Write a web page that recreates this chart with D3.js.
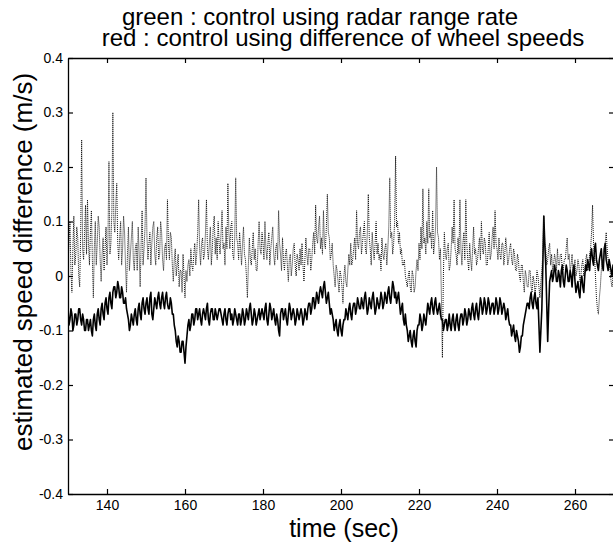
<!DOCTYPE html>
<html><head><meta charset="utf-8">
<script src="https://cdn.jsdelivr.net/npm/d3@7"></script>
<style>html,body{margin:0;padding:0;background:#fff;}svg{display:block;}</style>
</head><body>
<script>
// time axis: 130 .. 270 s, step 0.25 s
const tStart = 130, tStep = 0.25;
// green: control using radar range rate (dotted trace)
const radarSeries = [
 0.02, 0.06, 0.10, 0.01, -0.03, 0.05, 0.11, 0.02, 0.04, 0.09, 0.07, 0.00, -0.02, 0.08, 0.25, 0.05, 0.03, 0.08, 0.13, 0.04,
 0.14, 0.06, 0.02, 0.08, 0.12, 0.03, -0.04, 0.05, 0.10, 0.02, 0.06, 0.11, 0.09, 0.03, -0.01, 0.04, 0.07, 0.01, 0.05, 0.09,
 0.02, 0.07, 0.21, 0.04, 0.06, 0.12, 0.30, 0.10, 0.08, 0.13, 0.17, 0.06, 0.03, 0.07, 0.10, 0.02, 0.05, 0.11, 0.08, 0.02,
 -0.03, 0.04, 0.09, 0.01, 0.04, 0.07, 0.10, 0.03, 0.01, 0.05, 0.06, 0.01, 0.09, 0.04, -0.02, 0.06, 0.12, 0.02, 0.05, 0.09,
 0.18, 0.07, 0.03, 0.06, 0.08, 0.02, 0.06, 0.09, 0.10, 0.04, 0.02, 0.07, 0.09, 0.03, 0.04, 0.10, 0.08, 0.03, 0.01, 0.05,
 0.06, 0.03, 0.14, 0.06, 0.03, 0.08, 0.07, 0.02, -0.01, 0.03, 0.05, 0.00, 0.02, 0.04, -0.02, 0.01, 0.01, -0.03, 0.04, 0.00,
 -0.04, 0.01, -0.01, 0.02, 0.03, 0.00, 0.05, 0.02, 0.01, 0.04, 0.06, 0.02, 0.04, 0.08, 0.14, 0.05, 0.02, 0.06, 0.07, 0.03,
 0.04, 0.08, 0.14, 0.05, 0.03, 0.06, 0.09, 0.02, 0.05, 0.09, 0.11, 0.04, 0.07, 0.03, 0.10, 0.06, 0.04, 0.08, 0.12, 0.05,
 0.06, 0.02, 0.09, 0.05, 0.17, 0.08, 0.05, 0.09, 0.10, 0.04, 0.03, 0.07, 0.18, 0.07, 0.06, 0.03, 0.08, 0.05, 0.02, 0.06,
 0.09, 0.04, 0.03, 0.00, -0.04, 0.02, 0.07, 0.03, 0.02, 0.05, 0.08, 0.03, 0.05, 0.01, 0.01, 0.06, 0.10, 0.05, 0.04, 0.08,
 0.06, 0.03, 0.10, 0.05, 0.03, 0.06, 0.08, 0.02, 0.05, 0.07, 0.09, 0.04, 0.02, 0.05, 0.06, 0.03, 0.12, 0.06, 0.04, 0.01,
 0.07, 0.03, 0.01, 0.04, 0.05, 0.02, -0.01, 0.03, 0.04, 0.00, 0.02, 0.05, 0.06, 0.02, 0.00, 0.04, 0.03, 0.01, 0.05, 0.02,
 0.06, 0.02, -0.01, 0.03, 0.07, 0.04, 0.02, 0.05, 0.05, 0.01, 0.03, 0.06, 0.08, 0.04, 0.13, 0.07, 0.06, 0.09, 0.11, 0.05,
 0.07, 0.04, 0.12, 0.06, 0.05, 0.09, 0.15, 0.08, 0.07, 0.03, 0.04, 0.06, 0.02, 0.00, -0.02, 0.02, 0.01, -0.01, -0.03, 0.01,
 0.00, -0.02, -0.05, 0.00, 0.02, -0.01, -0.02, 0.01, 0.04, 0.02, 0.06, 0.02, 0.03, 0.05, 0.07, 0.03, 0.12, 0.06, 0.05, 0.08,
 0.09, 0.04, 0.06, 0.08, 0.10, 0.05, 0.04, 0.08, 0.15, 0.07, 0.05, 0.02, 0.08, 0.05, 0.03, 0.06, 0.10, 0.04, 0.06, 0.03,
 0.04, 0.01, 0.07, 0.04, 0.03, 0.05, 0.06, 0.02, 0.05, 0.09, 0.18, 0.07, 0.08, 0.04, 0.06, 0.10, 0.22, 0.09, 0.10, 0.06,
 0.08, 0.04, 0.05, 0.02, 0.02, 0.03, 0.00, -0.01, -0.02, 0.00, 0.01, -0.02, -0.03, 0.01, 0.00, -0.03, -0.02, 0.01, 0.03, 0.01,
 0.06, 0.03, 0.09, 0.05, 0.16, 0.06, 0.07, 0.04, 0.10, 0.06, 0.16, 0.07, 0.08, 0.05, 0.12, 0.04, 0.06, 0.09, 0.20, 0.08,
 0.07, 0.03, 0.05, -0.04, -0.15, 0.00, 0.08, 0.04, 0.03, 0.05, 0.06, 0.01, 0.02, 0.05, 0.09, 0.06, 0.14, 0.05, 0.04, 0.02,
 0.07, 0.04, 0.14, 0.05, 0.02, 0.06, 0.08, 0.03, 0.14, 0.06, 0.03, 0.01, 0.06, 0.03, 0.01, 0.05, 0.09, 0.04, 0.05, 0.02,
 0.03, 0.05, 0.07, 0.03, 0.10, 0.05, 0.04, 0.07, 0.06, 0.02, 0.02, 0.05, 0.08, 0.03, 0.04, 0.07, 0.09, 0.05, 0.12, 0.06,
 0.05, 0.03, 0.07, 0.04, 0.03, 0.06, 0.06, 0.02, 0.04, 0.07, 0.05, 0.02, 0.03, 0.05, 0.06, 0.03, 0.02, 0.05, 0.04, 0.01,
 0.01, 0.04, 0.03, 0.00, -0.01, 0.02, 0.02, -0.01, -0.03, 0.01, 0.00, -0.02, -0.02, 0.01, 0.01, -0.02, -0.03, 0.00, -0.01, -0.03,
 -0.02, 0.01, 0.00, -0.02, -0.04, -0.01, 0.01, 0.04, 0.11, 0.06, 0.05, 0.02, 0.03, 0.05, 0.06, 0.02, 0.04, 0.01, 0.02, 0.04,
 0.03, 0.01, 0.05, 0.02, 0.02, 0.04, 0.04, 0.01, 0.01, 0.03, 0.03, 0.05, 0.07, 0.03, 0.04, 0.01, 0.02, 0.04, 0.00, 0.02,
 0.03, 0.00, 0.01, 0.03, 0.02, -0.01, 0.00, 0.02, 0.03, 0.00, 0.01, 0.03, 0.04, 0.01, 0.02, 0.04, 0.05, 0.08, 0.13, 0.06,
 0.04, 0.00, -0.04, -0.06, -0.07, -0.04, -0.02, 0.01, 0.03, 0.02, 0.05, 0.06, 0.08, 0.05, 0.03, 0.02, 0.01, -0.01, -0.02, 0.00,
 0.02
];
// red: control using difference of wheel speeds (solid trace)
const wheelSeries = [
 -0.06, -0.09, -0.08, -0.06, -0.07, -0.10, -0.09, -0.07, -0.07, -0.09, -0.08, -0.06, -0.06, -0.08, -0.09, -0.07, -0.08, -0.10, -0.10, -0.08,
 -0.08, -0.10, -0.09, -0.08, -0.10, -0.11, -0.08, -0.07, -0.09, -0.10, -0.07, -0.06, -0.08, -0.09, -0.06, -0.05, -0.07, -0.08, -0.05, -0.04,
 -0.06, -0.07, -0.04, -0.03, -0.05, -0.06, -0.03, -0.02, -0.02, -0.04, -0.03, -0.01, -0.02, -0.04, -0.04, -0.02, -0.03, -0.05, -0.05, -0.04,
 -0.06, -0.07, -0.08, -0.10, -0.09, -0.07, -0.08, -0.09, -0.07, -0.06, -0.08, -0.09, -0.06, -0.05, -0.07, -0.08, -0.05, -0.04, -0.06, -0.07,
 -0.05, -0.04, -0.06, -0.07, -0.04, -0.03, -0.07, -0.08, -0.06, -0.04, -0.05, -0.06, -0.04, -0.03, -0.05, -0.06, -0.04, -0.03, -0.05, -0.06,
 -0.04, -0.03, -0.05, -0.06, -0.06, -0.04, -0.05, -0.07, -0.07, -0.09, -0.10, -0.12, -0.13, -0.11, -0.12, -0.14, -0.14, -0.12, -0.12, -0.14,
 -0.16, -0.13, -0.11, -0.09, -0.08, -0.10, -0.09, -0.07, -0.07, -0.09, -0.08, -0.06, -0.06, -0.08, -0.07, -0.06, -0.08, -0.09, -0.07, -0.06,
 -0.07, -0.08, -0.06, -0.05, -0.08, -0.09, -0.07, -0.06, -0.06, -0.08, -0.08, -0.06, -0.07, -0.08, -0.07, -0.06, -0.06, -0.07, -0.08, -0.09,
 -0.07, -0.06, -0.08, -0.09, -0.07, -0.06, -0.06, -0.08, -0.07, -0.09, -0.08, -0.06, -0.07, -0.08, -0.09, -0.07, -0.07, -0.09, -0.08, -0.06,
 -0.07, -0.09, -0.08, -0.06, -0.07, -0.08, -0.06, -0.05, -0.07, -0.09, -0.08, -0.06, -0.07, -0.09, -0.08, -0.07, -0.06, -0.08, -0.07, -0.06,
 -0.07, -0.08, -0.06, -0.05, -0.08, -0.09, -0.07, -0.05, -0.06, -0.08, -0.07, -0.06, -0.08, -0.09, -0.07, -0.08, -0.10, -0.11, -0.07, -0.06,
 -0.06, -0.08, -0.07, -0.06, -0.08, -0.09, -0.07, -0.05, -0.06, -0.08, -0.07, -0.06, -0.07, -0.09, -0.08, -0.06, -0.07, -0.08, -0.07, -0.06,
 -0.07, -0.09, -0.08, -0.06, -0.07, -0.08, -0.06, -0.05, -0.05, -0.07, -0.06, -0.04, -0.04, -0.06, -0.05, -0.03, -0.04, -0.05, -0.03, -0.02,
 -0.03, -0.04, -0.02, -0.01, -0.03, -0.05, -0.04, -0.03, -0.05, -0.07, -0.06, -0.07, -0.08, -0.10, -0.09, -0.08, -0.10, -0.11, -0.09, -0.08,
 -0.10, -0.11, -0.09, -0.08, -0.08, -0.06, -0.07, -0.08, -0.06, -0.05, -0.07, -0.08, -0.06, -0.05, -0.05, -0.07, -0.06, -0.04, -0.05, -0.06,
 -0.06, -0.04, -0.05, -0.06, -0.04, -0.03, -0.05, -0.07, -0.06, -0.04, -0.05, -0.06, -0.04, -0.03, -0.05, -0.07, -0.06, -0.04, -0.05, -0.06,
 -0.05, -0.03, -0.04, -0.06, -0.05, -0.03, -0.04, -0.05, -0.03, -0.02, -0.04, -0.05, -0.03, -0.01, -0.02, -0.04, -0.03, -0.05, -0.04, -0.03,
 -0.05, -0.07, -0.06, -0.05, -0.08, -0.09, -0.07, -0.09, -0.10, -0.12, -0.11, -0.10, -0.12, -0.13, -0.11, -0.10, -0.12, -0.13, -0.10, -0.09,
 -0.09, -0.07, -0.08, -0.10, -0.09, -0.07, -0.08, -0.09, -0.07, -0.05, -0.06, -0.07, -0.05, -0.04, -0.06, -0.07, -0.05, -0.04, -0.06, -0.07,
 -0.06, -0.05, -0.07, -0.08, -0.08, -0.10, -0.09, -0.08, -0.08, -0.10, -0.09, -0.07, -0.09, -0.10, -0.08, -0.07, -0.09, -0.10, -0.08, -0.07,
 -0.09, -0.10, -0.08, -0.07, -0.07, -0.09, -0.08, -0.06, -0.07, -0.09, -0.08, -0.06, -0.07, -0.08, -0.06, -0.05, -0.07, -0.08, -0.06, -0.05,
 -0.07, -0.08, -0.06, -0.04, -0.05, -0.07, -0.06, -0.04, -0.05, -0.07, -0.06, -0.04, -0.05, -0.07, -0.06, -0.05, -0.05, -0.07, -0.06, -0.04,
 -0.05, -0.07, -0.06, -0.04, -0.05, -0.07, -0.06, -0.05, -0.06, -0.08, -0.07, -0.06, -0.08, -0.09, -0.09, -0.11, -0.10, -0.09, -0.11, -0.12,
 -0.10, -0.11, -0.12, -0.14, -0.13, -0.11, -0.11, -0.09, -0.08, -0.07, -0.06, -0.05, -0.05, -0.06, -0.04, -0.03, -0.05, -0.06, -0.04, -0.03,
 -0.05, -0.06, -0.04, -0.09, -0.14, -0.10, -0.06, 0.02, 0.11, 0.06, 0.02, -0.05, -0.12, -0.06, -0.01, 0.00, 0.01, -0.01, 0.00, 0.02,
 0.01, -0.01, -0.01, 0.01, 0.00, -0.02, 0.01, 0.02, -0.01, -0.02, 0.00, 0.02, 0.01, -0.01, -0.01, 0.01, 0.00, -0.02, 0.01, 0.02,
 -0.01, -0.03, -0.02, -0.01, -0.03, -0.04, -0.01, 0.00, -0.02, -0.03, 0.00, 0.02, 0.01, 0.03, 0.02, 0.01, 0.04, 0.05, 0.03, 0.02,
 0.05, 0.06, 0.03, 0.02, 0.01, 0.03, 0.04, 0.05, 0.02, 0.01, 0.05, 0.06, 0.03, 0.02, 0.01, 0.03, 0.02, 0.01, 0.00, 0.02,
 0.01
];
const xTicks = [140, 160, 180, 200, 220, 240, 260];
const yTicks = [-0.4, -0.3, -0.2, -0.1, 0, 0.1, 0.2, 0.3, 0.4];
const yTickLabels = ["-0.4", "-0.3", "-0.2", "-0.1", "0", "0.1", "0.2", "0.3", "0.4"];
const titleLines = ["green : control using radar range rate", "red : control using difference of wheel speeds"];
const xLabel = "time (sec)";
const yLabel = "estimated speed difference (m/s)";

const W = 613, H = 546;
const m = {left: 68, top: 58, right: 614, bottom: 494};
const svg = d3.select("body").append("svg").attr("width", W).attr("height", H)
  .style("font-family", "'Liberation Sans', Arial, Helvetica, sans-serif");

const x = d3.scaleLinear().domain([130, 270]).range([m.left, m.right]);
const y = d3.scaleLinear().domain([-0.4, 0.4]).range([m.bottom, m.top]);

const radar = radarSeries.map((v, i) => [tStart + i * tStep, v]);
const wheel = wheelSeries.map((v, i) => [tStart + i * tStep, v]);
const line = d3.line().x(d => x(d[0])).y(d => y(d[1]));

svg.append("clipPath").attr("id", "c").append("rect")
  .attr("x", m.left).attr("y", m.top).attr("width", m.right - m.left).attr("height", m.bottom - m.top);
const g = svg.append("g").attr("clip-path", "url(#c)");
g.append("path").datum(wheel).attr("d", line).attr("fill", "none")
  .attr("stroke", "#000").attr("stroke-width", 1.6).attr("stroke-linejoin", "round");
g.append("path").datum(radar).attr("d", line).attr("fill", "none")
  .attr("stroke", "#111").attr("stroke-width", 1).attr("stroke-dasharray", "1,1");

// axes with inward ticks
const tickLen = 5;
const axBottom = svg.append("g").attr("transform", `translate(0,${m.bottom})`)
  .call(d3.axisBottom(x).tickValues(xTicks).tickSizeInner(-tickLen).tickSizeOuter(0).tickPadding(6));
const axTop = svg.append("g").attr("transform", `translate(0,${m.top})`)
  .call(d3.axisTop(x).tickValues(xTicks).tickSizeInner(-tickLen).tickSizeOuter(0).tickFormat(""));
const axLeft = svg.append("g").attr("transform", `translate(${m.left},0)`)
  .call(d3.axisLeft(y).tickValues(yTicks).tickSizeInner(-tickLen).tickSizeOuter(0).tickPadding(5)
    .tickFormat((d, i) => yTickLabels[i]));
const axRight = svg.append("g").attr("transform", `translate(${m.right},0)`)
  .call(d3.axisRight(y).tickValues(yTicks).tickSizeInner(-tickLen).tickSizeOuter(0).tickFormat(""));
[axBottom, axTop, axLeft, axRight].forEach(a => {
  a.selectAll("path.domain").attr("stroke", "#000").attr("stroke-width", 1.3);
  a.selectAll("line").attr("stroke", "#000").attr("stroke-width", 1.2);
  a.selectAll("text").attr("fill", "#000").style("font-size", "14px")
    .style("font-family", "'Liberation Sans', Arial, sans-serif");
});

svg.append("text").attr("x", 320).attr("y", 25).attr("text-anchor", "middle")
  .style("font-size", "24px").text(titleLines[0]);
svg.append("text").attr("x", 343).attr("y", 46).attr("text-anchor", "middle")
  .style("font-size", "24px").text(titleLines[1]);
svg.append("text").attr("x", 344).attr("y", 537).attr("text-anchor", "middle")
  .style("font-size", "25px").text(xLabel);
svg.append("text").attr("transform", `translate(32,262) rotate(-90)`)
  .attr("text-anchor", "middle").style("font-size", "26px").text(yLabel);
</script>
</body></html>
